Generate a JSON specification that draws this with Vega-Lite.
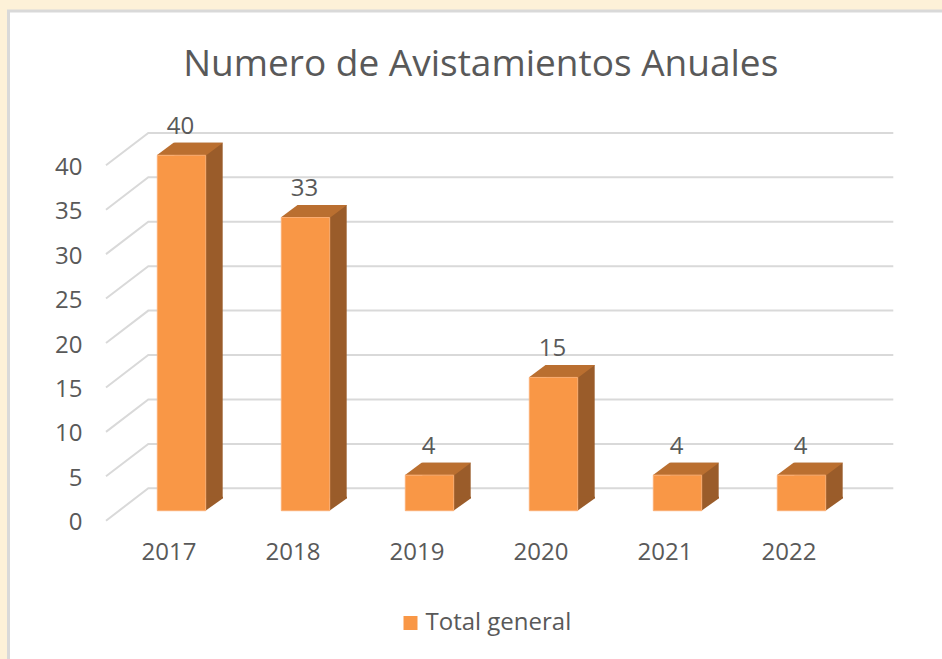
{
"$schema":"https://vega.github.io/schema/vega-lite/v6.json",
"autosize":"none",
"width":938.5,
"height":653,
"padding":{"left":8.5,"top":11,"right":-5,"bottom":-5},
"background":"#FDF1D8",
"view":{"fill":"#FFFFFF","stroke":"#D9D9D9","strokeWidth":3},
"title":{"text":"Numero de Avistamientos Anuales","font":"Open Sans","fontSize":37,"fontWeight":"normal","color":"#595959","anchor":"middle","frame":"group","offset":-73,"dx":3},
"datasets":{
"bars":[
{"year":"2017","total":40,"serie":"Total general"},
{"year":"2018","total":33,"serie":"Total general"},
{"year":"2019","total":4,"serie":"Total general"},
{"year":"2020","total":15,"serie":"Total general"},
{"year":"2021","total":4,"serie":"Total general"},
{"year":"2022","total":4,"serie":"Total general"}],
"ticks":[{"tick":0},{"tick":5},{"tick":10},{"tick":15},{"tick":20},{"tick":25},{"tick":30},{"tick":35},{"tick":40}]
},
"layer":[
{"data":{"name":"ticks"},
 "mark":{"type":"point","shape":"M-371.75 10L-329.45 -22.4L415.55 -22.4","filled":false,"stroke":"#D9D9D9","strokeWidth":2,"size":4,"opacity":1},
 "encoding":{"y":{"field":"tick","type":"quantitative","scale":{"domain":[0,40],"range":[499.7,144.3]},"axis":{"values":[0,5,10,15,20,25,30,35,40],"title":null,"domain":false,"ticks":false,"grid":false,"offset":-73.5,"labelPadding":0,"labelOffset":12,"labelBound":false,"labelFlush":false,"labelOverlap":false,"labelFont":"Open Sans","labelFontSize":24,"labelColor":"#595959"}}}},
{"data":{"name":"bars"},
 "mark":{"type":"bar","color":"#9A5C2A","xOffset":17,"yOffset":-12.5},
 "encoding":{"x":{"field":"year","type":"ordinal","scale":{"range":[111,855],"paddingInner":0.61,"paddingOuter":0.305},"axis":{"title":null,"domain":false,"ticks":false,"grid":false,"labelAngle":0,"offset":-124,"labelPadding":0,"labelOffset":-12.5,"labelFont":"Open Sans","labelFontSize":24,"labelColor":"#595959"}},"y":{"field":"total","type":"quantitative"}}},
{"data":{"name":"bars"},
 "mark":{"type":"point","shape":"M24 0L41.5 -12.5L41.5 -14L24 -14Z","filled":true,"fill":"#9A5C2A","stroke":null,"size":4,"opacity":1},
 "encoding":{"x":{"field":"year","type":"ordinal"},"y":{"datum":0,"type":"quantitative"}}},
{"data":{"name":"bars"},
 "mark":{"type":"point","shape":"M-24.75 0L-8 -12.5L41.5 -12.5L24.75 0Z","filled":true,"fill":"#BA6F30","stroke":null,"size":4,"opacity":1},
 "encoding":{"x":{"field":"year","type":"ordinal"},"y":{"field":"total","type":"quantitative"}}},
{"data":{"name":"bars"},
 "mark":{"type":"bar","stroke":"#FBAE73","strokeWidth":1},
 "encoding":{"x":{"field":"year","type":"ordinal"},"y":{"field":"total","type":"quantitative"},
 "color":{"field":"serie","type":"nominal","scale":{"range":["#F99746"]},"legend":{"title":null,"orient":"none","legendX":390,"legendY":600,"symbolType":"square","symbolSize":196,"symbolStrokeWidth":0,"labelFont":"Open Sans","labelFontSize":24,"labelColor":"#595959","labelOffset":3}}}},
{"data":{"name":"bars"},
 "mark":{"type":"text","font":"Open Sans","fontSize":24,"color":"#595959","baseline":"middle","align":"center","yOffset":-28.5,"xOffset":-1},
 "encoding":{"x":{"field":"year","type":"ordinal"},"y":{"field":"total","type":"quantitative"},"text":{"field":"total","type":"quantitative"}}}
]
}
